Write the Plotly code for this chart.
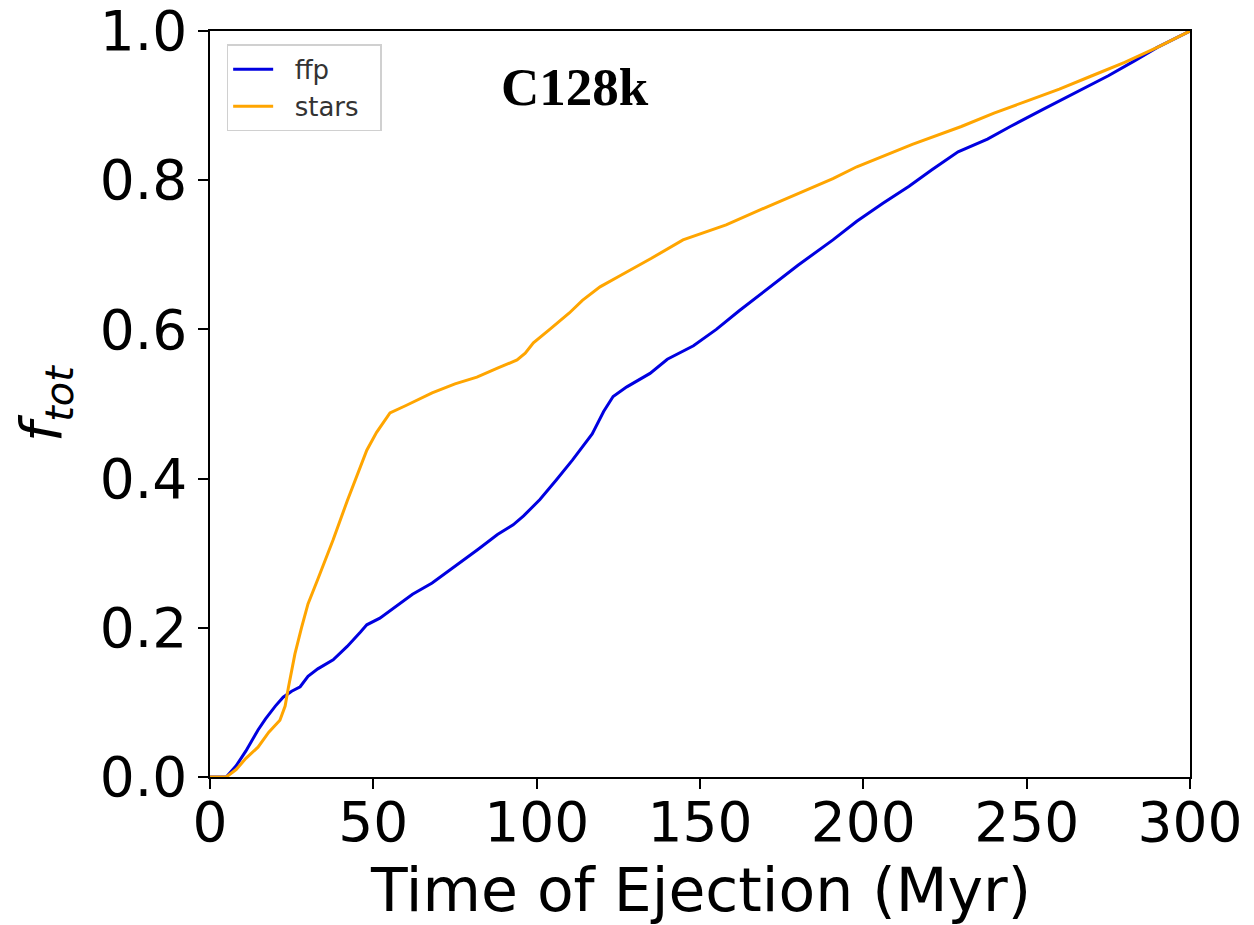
import plotly.graph_objects as go

# Cumulative fraction of ejected objects vs. ejection time (Myr)
ffp_time = [0, 5, 8, 11, 14.7, 17, 20, 22.4, 25, 27.6, 30, 33, 37.7, 42, 46, 48, 52,
            58.2, 62, 68, 76.5, 82, 88, 92.8, 96, 101, 106, 111, 117, 120.5, 123.4,
            127.6, 134.7, 140, 148, 155, 162, 170, 180, 190.7, 198, 206, 214, 221,
            229, 238, 245, 255, 265, 275, 283, 290, 300]
ffp_frac = [0, 0, 0.015, 0.035, 0.063, 0.078, 0.095, 0.107, 0.115, 0.121, 0.135,
            0.145, 0.157, 0.175, 0.194, 0.204, 0.213, 0.233, 0.245, 0.26, 0.287,
            0.305, 0.325, 0.338, 0.35, 0.372, 0.398, 0.425, 0.46, 0.49, 0.51, 0.523,
            0.541, 0.56, 0.578, 0.6, 0.625, 0.652, 0.686, 0.72, 0.745, 0.769, 0.792,
            0.814, 0.838, 0.855, 0.872, 0.895, 0.918, 0.94, 0.96, 0.978, 1.0]

star_time = [0, 5, 8, 11, 14.7, 18, 21.4, 23, 24, 26, 28, 30, 33, 37.7, 42, 45, 48,
             51, 55.1, 60, 68, 75, 81.7, 88, 94, 96.5, 99, 104, 110, 114, 119.4,
             125.5, 135, 144.8, 158, 170.4, 180, 190.7, 198, 205, 215, 230, 240, 250,
             260, 270, 280, 290, 300]
star_frac = [0, 0, 0.01, 0.025, 0.04, 0.06, 0.076, 0.095, 0.12, 0.165, 0.2, 0.232,
             0.265, 0.318, 0.37, 0.405, 0.438, 0.462, 0.488, 0.498, 0.515, 0.527,
             0.536, 0.548, 0.559, 0.568, 0.582, 0.6, 0.622, 0.639, 0.657, 0.672,
             0.695, 0.72, 0.74, 0.764, 0.782, 0.802, 0.818, 0.83, 0.848, 0.872, 0.89,
             0.906, 0.922, 0.94, 0.958, 0.978, 1.0]

x_ticks = [0, 50, 100, 150, 200, 250, 300]
y_ticks = [0.0, 0.2, 0.4, 0.6, 0.8, 1.0]

pad = "\u00a0\u00a0"  # spacing inside the legend box

fig = go.Figure()
fig.add_trace(go.Scatter(x=ffp_time, y=ffp_frac, mode="lines", name=pad + "ffp" + pad,
                         line=dict(color="#0000e0", width=3)))
fig.add_trace(go.Scatter(x=star_time, y=star_frac, mode="lines",
                         name=pad + "stars" + pad,
                         line=dict(color="#ffa500", width=3)))

axis_common = dict(showline=True, linecolor="black", linewidth=1.5, mirror=True,
                   ticks="outside", ticklen=10, tickwidth=1.5, tickcolor="black",
                   showgrid=False, zeroline=False, ticklabeloverflow="allow",
                   automargin=False,
                   tickfont=dict(family="DejaVu Sans", size=55, color="black"))

fig.update_xaxes(range=[0, 300], tickvals=x_ticks, ticklabelstandoff=-14,
                 ticktext=[str(v) for v in x_ticks], **axis_common)
fig.update_yaxes(range=[0, 1.0], tickvals=y_ticks,
                 ticktext=[f"{v:.1f}" for v in y_ticks],
                 title=dict(text="<i>f</i><sub><i>tot</i></sub>", standoff=20,
                            font=dict(family="DejaVu Sans", size=57, color="black")),
                 **axis_common)

# x-axis title placed close under the tick labels
fig.add_annotation(text="Time of Ejection (Myr)", x=0.5, y=-0.151,
                   xref="paper", yref="paper", showarrow=False,
                   xanchor="center", yanchor="middle",
                   font=dict(family="DejaVu Sans", size=60, color="black"))

fig.add_annotation(text="<b>C128k</b>", x=0.372, y=0.925, xref="paper", yref="paper",
                   showarrow=False, xanchor="center", yanchor="middle",
                   font=dict(family="Liberation Serif", size=53, color="black"))

fig.update_layout(
    width=1254, height=925,
    margin=dict(l=210, r=64, t=31, b=148),
    paper_bgcolor="white", plot_bgcolor="white",
    showlegend=True,
    legend=dict(x=0.017, y=0.982, xanchor="left", yanchor="top",
                bgcolor="white", bordercolor="#d0d0d0", borderwidth=1.5,
                font=dict(family="DejaVu Sans", size=26, color="#333333"),
                tracegroupgap=0, itemwidth=40),
)

fig.write_html("out.html")
